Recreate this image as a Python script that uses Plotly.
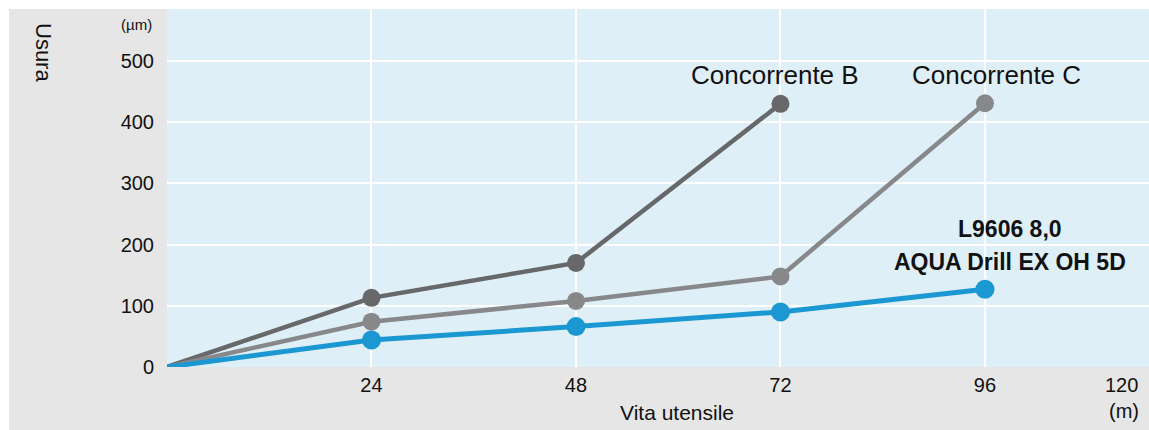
import plotly.graph_objects as go

# ---- data ----
x_hours = [0, 24, 48, 72, 96]
wear_b = [0, 113, 170, 430]          # Concorrente B
wear_c = [0, 74, 108, 148, 431]      # Concorrente C
wear_aqua = [0, 44, 66, 90, 127]     # L9606 8,0 AQUA Drill EX OH 5D
x_tick_vals = [24, 48, 72, 96]
x_tick_text = ["24", "48", "72", "96"]
x_last_tick = "120"
y_tick_vals = [0, 100, 200, 300, 400, 500]

FONT = "Liberation Sans, Arial, sans-serif"
TXT = "#111111"

fig = go.Figure()

def add_series(xs, ys, color, lw, ms):
    sizes = [0] + [ms] * (len(ys) - 1)
    fig.add_trace(go.Scatter(
        x=xs[:len(ys)], y=ys, mode="lines+markers",
        line=dict(color=color, width=lw),
        marker=dict(color=color, size=sizes, opacity=1, line=dict(width=0)),
        showlegend=False, hoverinfo="skip"))

add_series(x_hours, wear_b, "#67686a", 4.5, 18)
add_series(x_hours, wear_c, "#878889", 4.5, 18)
add_series(x_hours, wear_aqua, "#1b97d2", 5, 19)

x_range = [0, 115.25]
y_range = [0, 585]

fig.update_layout(
    width=1149, height=430,
    margin=dict(l=167, r=0, t=9, b=63),
    paper_bgcolor="#e6e6e6",
    plot_bgcolor="#dfeff8",
    font=dict(family=FONT, color=TXT),
    xaxis=dict(range=x_range, tickvals=x_tick_vals, ticktext=x_tick_text,
               showgrid=True, gridcolor="white", gridwidth=2,
               zeroline=False, showline=False, ticks="",
               tickfont=dict(size=20, family=FONT, color=TXT),
               ticklabelstandoff=4, fixedrange=True),
    yaxis=dict(range=y_range, tickvals=y_tick_vals,
               showgrid=True, gridcolor="white", gridwidth=2,
               zeroline=False, showline=False, ticks="",
               tickfont=dict(size=20, family=FONT, color=TXT),
               ticklabelstandoff=12, fixedrange=True),
    shapes=[
        # white outer strips (top and left)
        dict(type="rect", xref="paper", yref="paper",
             x0=-167 / 982, x1=1.01, y0=1, y1=1.1,
             fillcolor="white", line=dict(width=0), layer="below"),
        dict(type="rect", xref="paper", yref="paper",
             x0=-167 / 982, x1=(9 - 167) / 982, y0=-0.3, y1=1.1,
             fillcolor="white", line=dict(width=0), layer="below"),
    ],
)

ann = [
    dict(text="Concorrente B", x=72, y=477, xref="x", yref="y",
         font=dict(size=26, family=FONT, color=TXT), showarrow=False,
         xanchor="center", yanchor="middle", xshift=-5),
    dict(text="Concorrente C", x=96, y=477, xref="x", yref="y",
         font=dict(size=26, family=FONT, color=TXT), showarrow=False,
         xanchor="center", yanchor="middle", xshift=12),
    dict(text="<b>L9606 8,0</b>", x=96, y=226, xref="x", yref="y",
         font=dict(size=23, family=FONT, color=TXT), showarrow=False,
         xanchor="center", yanchor="middle", xshift=25),
    dict(text="<b>AQUA Drill EX OH 5D</b>", x=96, y=172, xref="x", yref="y",
         font=dict(size=23, family=FONT, color=TXT), showarrow=False,
         xanchor="center", yanchor="middle", xshift=25),
    dict(text="Usura", x=43, y=52, xref="paper", yref="paper",
         font=dict(size=22, family=FONT, color=TXT), showarrow=False,
         textangle=90, xanchor="center", yanchor="middle"),
    dict(text="(µm)", x=154, y=25, xref="paper", yref="paper",
         font=dict(size=15, family=FONT, color=TXT), showarrow=False,
         xanchor="right", yanchor="middle"),
    dict(text="Vita utensile", x=677, y=412, xref="paper", yref="paper",
         font=dict(size=21, family=FONT, color=TXT), showarrow=False,
         xanchor="center", yanchor="middle"),
    dict(text="(m)", x=1141, y=411, xref="paper", yref="paper",
         font=dict(size=20, family=FONT, color=TXT), showarrow=False,
         xanchor="right", yanchor="middle"),
    dict(text=x_last_tick, x=1140, y=385, xref="paper", yref="paper",
         font=dict(size=20, family=FONT, color=TXT), showarrow=False,
         xanchor="right", yanchor="middle"),
]
# convert pixel positions (paper refs given in px) to paper fractions
for a in ann:
    if a["xref"] == "paper":
        a["x"] = (a["x"] - 167) / 982
        a["y"] = (367 - a["y"]) / 358
fig.update_layout(annotations=ann)

fig.write_html("out.html")
